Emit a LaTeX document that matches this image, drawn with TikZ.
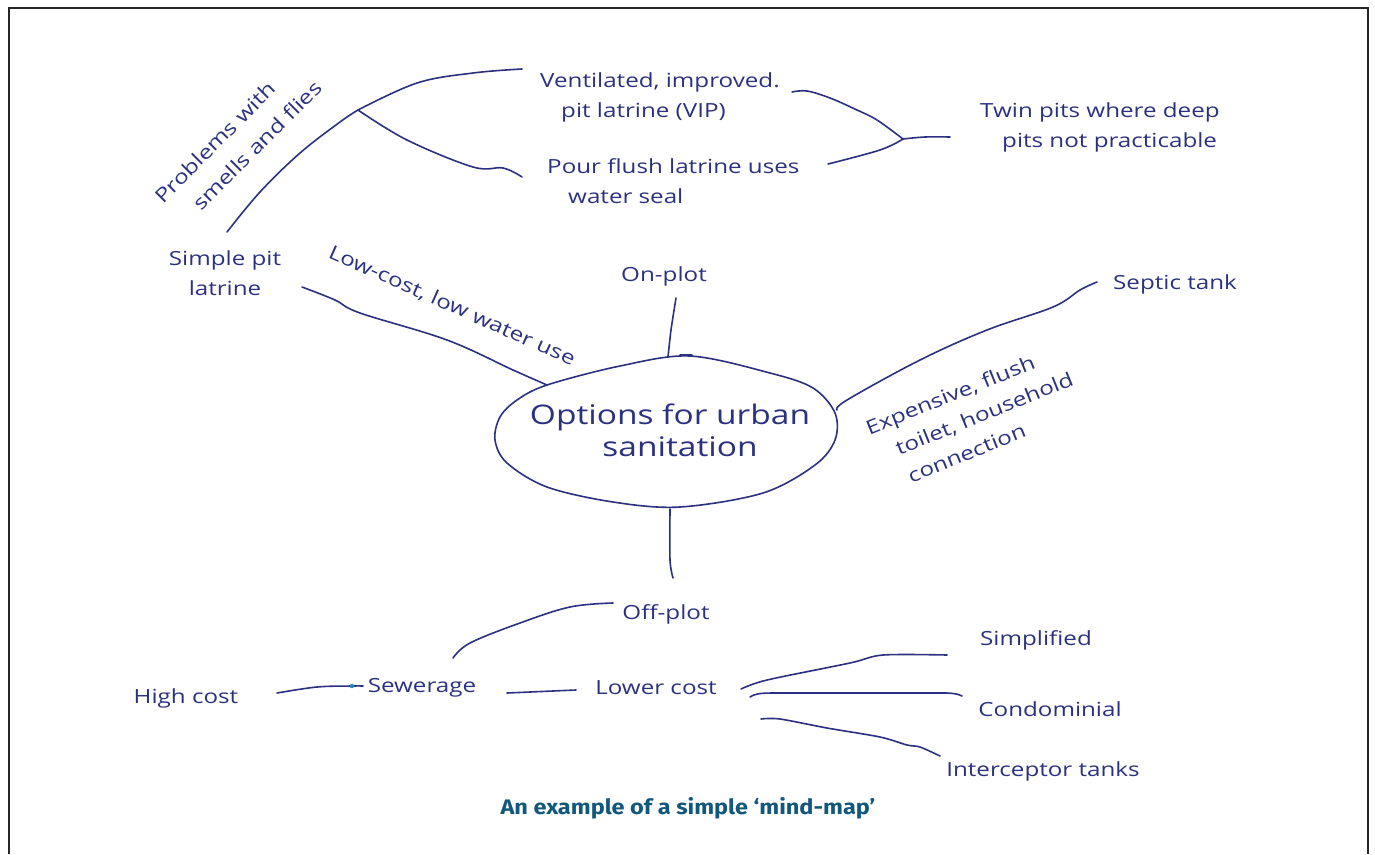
\documentclass[tikz,border=0pt]{standalone}
\usepackage{fontspec}
\setmainfont{Open Sans}
\newfontfamily\hand[FakeStretch=1.24]{Open Sans}
\newfontfamily\capfont[FakeStretch=1.12]{Fira Sans}
\definecolor{ink}{RGB}{43,49,128}
\definecolor{capblue}{RGB}{18,88,125}
\definecolor{dotblue}{RGB}{30,140,190}
\begin{document}
\begin{tikzpicture}[x=1pt,y=-1pt,
  inkline/.style={draw=ink, line width=1.6pt, line cap=round, line join=round},
  lbl/.style={text=ink, font=\hand\fontsize{19.5}{30}\selectfont, inner sep=0pt, align=center},
  lbll/.style={lbl, align=left},
  titletext/.style={text=ink, font=\hand\fontsize{27}{32}\selectfont, inner sep=0pt, align=center},
  captext/.style={text=capblue, font=\capfont\bfseries\fontsize{21}{24}\selectfont, inner sep=0pt}]
\useasboundingbox (0,0) rectangle (1375,854);
\draw[line width=1.5pt, black!85] (9,854) -- (9,8) -- (1368,8) -- (1368,854);

% centre blob
\node[titletext] (centre) at (670,430) {Options for urban\\ \hspace*{20pt}sanitation};
\draw[inkline] plot[smooth cycle, tension=0.55] coordinates {
 (547,385) (620,366) (690,356) (770,373) (813,388) (835,413) (835,440)
 (815,465) (763,493) (680,507) (613,502) (547,487) (507,463) (495,440)
 (500,417) (517,400)};
\draw[inkline] (680,355) -- (692,355);

% labels
\node[lbl] (onplot) at (664,276) {On-plot};
\node[lbl] (offplot) at (666,614) {Off-plot};
\node[lbl] (simplepit) at (225,273) {Simple pit\\ latrine};
\node[lbll, anchor=west] (vip) at (540,97) {Ventilated, improved.\\ \hspace*{21pt}pit latrine (VIP)};
\node[lbll, anchor=west] (pour) at (547,181) {Pour flush latrine uses\\ \hspace*{21pt}water seal};
\node[lbll, anchor=west] (twin) at (980,127) {Twin pits where deep\\ \hspace*{22pt}pits not practicable};
\node[lbl] (septic) at (1175,284) {Septic tank};
\node[lbl] (highcost) at (186,698) {High cost};
\node[lbl] (sewerage) at (422,688) {Sewerage};
\node[lbl] (lowercost) at (656,688) {Lower cost};
\node[lbl] (simplified) at (1036,640) {Simplified};
\node[lbl] (condominial) at (1050,709) {Condominial};
\node[lbl] (interceptor) at (1043,771) {Interceptor tanks};
\node[lbl, rotate=-24] (lowcostlbl) at (452,306) {Low-cost, low water use};
\node[lbll, rotate=45, font=\hand\fontsize{19.5}{32}\selectfont] (problems) at (238,142) {Problems with\\ \hspace*{22pt}smells and flies};
\node[lbll, rotate=22] (expensive) at (975,417) {Expensive, flush\\ \hspace*{20pt}toilet, household\\ \hspace*{21pt}connection};
\node[captext] (caption) at (688,808) {An example of a simple ‘mind-map’};

% connector end points
\coordinate (fork1) at (358,110);
\coordinate (fork2) at (903,139);
\coordinate (dot) at (352,686);

% on-plot / off-plot
\draw[inkline] plot[smooth] coordinates {(668,357) (671,330) (676,298)};
\draw[inkline] plot[smooth] coordinates {(670,509) (670,560) (673,578)};

% simple pit latrine to centre
\draw[inkline] plot[smooth, tension=0.6] coordinates {(302,287) (335,300) (360,313) (447,340) (513,370) (547,385)};
% simple pit latrine up to fork
\draw[inkline] plot[smooth, tension=0.6] coordinates {(227,232) (260,192) (300,153) (340,122) (fork1)};
\draw[inkline] plot[smooth, tension=0.6] coordinates {(fork1) (417,83) (473,73) (522,69)};
\draw[inkline] plot[smooth, tension=0.6] coordinates {(fork1) (407,140) (473,167) (503,168) (522,177)};

% to twin pits
\draw[inkline] plot[smooth, tension=0.6] coordinates {(792,92) (807,91) (830,98) (857,110) (877,120) (fork2)};
\draw[inkline] plot[smooth, tension=0.6] coordinates {(828,164) (880,150) (fork2)};
\draw[inkline] plot[smooth, tension=0.6] coordinates {(fork2) (925,137) (950,137)};

% septic tank
\draw[inkline] plot[smooth, tension=0.6] coordinates {(837,410) (847,400) (920,360) (987,330) (1053,307) (1080,290) (1097,282)};

% off-plot to sewerage
\draw[inkline] plot[smooth, tension=0.6] coordinates {(613,603) (570,607) (520,623) (470,643) (453,658)};
% high cost - sewerage
\draw[inkline] plot[smooth, tension=0.6] coordinates {(277,693) (317,687) (dot) (363,686)};
\fill[dotblue] (dot) circle (2.2);
% sewerage - lower cost
\draw[inkline] plot[smooth, tension=0.6] coordinates {(507,693) (553,691) (576,690)};
% lower cost to the three
\draw[inkline] plot[smooth, tension=0.5] coordinates {(741,689) (767,680) (850,663) (883,655) (947,655)};
\draw[inkline] (750,697) .. controls (755,694) and (758,693) .. (775,693) -- (945,693) .. controls (953,693) and (958,694) .. (962,696);
\draw[inkline] plot[smooth, tension=0.5] coordinates {(761,719) (780,719) (827,728) (880,737) (907,745) (920,747) (940,756)};
\end{tikzpicture}
\end{document}
